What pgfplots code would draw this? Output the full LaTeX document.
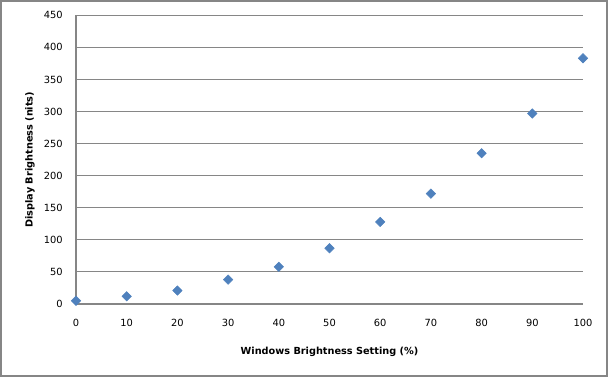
\documentclass[border=0pt]{standalone}
\usepackage{pgfplots}
\pgfplotsset{compat=1.18}
\usepackage{fontspec}
\setmainfont{DejaVu Sans}
\definecolor{mk}{HTML}{4F81BD}
\definecolor{gridc}{HTML}{868686}
\begin{document}
\begin{tikzpicture}
\path (0,0) rectangle (456.75pt,283.5pt);
\draw[color=gridc, line width=0.8pt] (0.75pt,1.5pt) rectangle (455.25pt,282.75pt);
\begin{axis}[
  at={(57pt,55.5pt)}, anchor=south west,
  scale only axis, width=380.25pt, height=216.5pt,
  xmin=0, xmax=100, ymin=0, ymax=450,
  xtick={0,10,...,100}, ytick={0,50,...,450},
  axis x line*=bottom, axis y line*=left,
  axis line style={color=gridc, line width=0.8pt, -},
  major tick length=0pt,
  ymajorgrids, grid style={color=gridc, line width=0.8pt},
  /pgf/number format/assume math mode=true,
  tick label style={font=\fontsize{7.4}{9}\selectfont, text=black},
  yticklabel style={xshift=-6.5pt},
  xticklabel style={yshift=-8pt},
  label style={font=\fontsize{7.3}{9}\selectfont\bfseries},
  xlabel={Windows Brightness Setting (\%)},
  ylabel={Display Brightness  (nits)},
  xlabel style={at={(axis description cs:0.5,-0.166)}, anchor=center},
  ylabel style={at={(axis description cs:-0.0907,0.5)}, anchor=center, rotate=0},
  clip=false,
]
\addplot[only marks, mark=square*, mark size=2.5pt, mark options={rotate=45, fill=mk, draw=mk}]
coordinates {
(0,5) (10,12) (20,21) (30,38) (40,58) (50,87) (60,128) (70,172) (80,235) (90,297) (100,383)
};
\end{axis}
\end{tikzpicture}
\end{document}
